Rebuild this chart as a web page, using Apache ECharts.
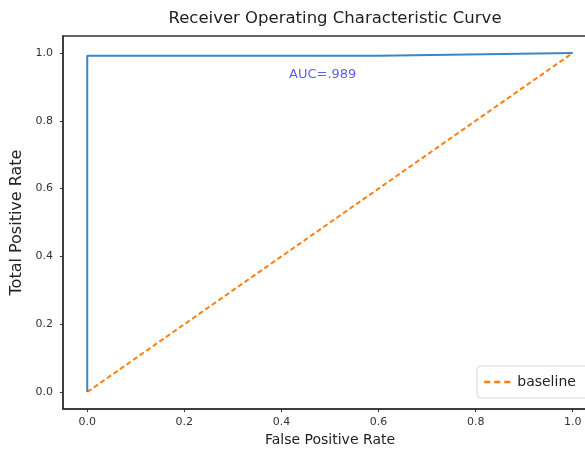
<!DOCTYPE html>
<html>
<head>
<meta charset="utf-8">
<script src="https://cdn.jsdelivr.net/npm/echarts@6/dist/echarts.min.js"></script>
<style>
  html, body { margin: 0; padding: 0; background: #fff; }
  #chart { width: 585px; height: 455px; }
</style>
</head>
<body>
<div id="chart"></div>
<script>
// ROC curve points (false positive rate, true positive rate)
const rocFpr = [0.0, 0.0, 0.6, 1.0];
const rocTpr = [0.0, 0.992, 0.992, 1.0];
// Chance diagonal
const baseFpr = [0.0, 1.0];
const baseTpr = [0.0, 1.0];
// Tick values shown on both axes
const tickValues = [0.0, 0.2, 0.4, 0.6, 0.8, 1.0];
const aucText = 'AUC=.989';
const aucPos = [0.485, 0.935];

const fontFamily = '"DejaVu Sans", sans-serif';
const chart = echarts.init(document.getElementById('chart'));

const zip = (a, b) => a.map((v, i) => [v, b[i]]);

const axisCommon = {
  type: 'value',
  min: -0.05,
  max: 1.05,
  splitLine: { show: false },
  axisLine: { show: true, onZero: false, lineStyle: { color: '#333', width: 1.5 } },
  axisTick: { show: true, customValues: tickValues, length: 3, lineStyle: { color: '#333' } },
  axisLabel: {
    customValues: tickValues,
    formatter: v => v.toFixed(1),
    color: '#333',
    fontSize: 11,
    fontFamily
  },
  nameLocation: 'middle',
  nameTextStyle: { color: '#222', fontFamily }
};

chart.setOption({
  animation: false,
  title: {
    text: 'Receiver Operating Characteristic Curve',
    left: 330,
    textAlign: 'center',
    top: 5,
    textStyle: { color: '#222', fontSize: 16.5, fontWeight: 'normal', fontFamily }
  },
  grid: {
    left: 63, top: 36, width: 534, height: 373,
    outerBoundsMode: 'none',
    containLabel: false,
    show: true, borderColor: '#333', borderWidth: 1.5, backgroundColor: '#fff'
  },
  xAxis: Object.assign({}, axisCommon, {
    name: 'False Positive Rate',
    nameGap: 23,
    nameTextStyle: { color: '#222', fontSize: 14, fontFamily },
    axisLabel: Object.assign({}, axisCommon.axisLabel, { margin: 8 })
  }),
  yAxis: Object.assign({}, axisCommon, {
    name: 'Total Positive Rate',
    nameGap: 34,
    nameTextStyle: { color: '#222', fontSize: 16, fontFamily },
    axisLabel: Object.assign({}, axisCommon.axisLabel, { margin: 10 })
  }),
  legend: {
    data: ['baseline'],
    left: 477,
    top: 366,
    padding: [9, 14, 9, 6],
    itemWidth: 28,
    itemHeight: 10,
    itemGap: 8,
    itemStyle: { opacity: 0 },
    lineStyle: { width: 2.5, type: [6, 4] },
    borderColor: '#d8d8d8',
    borderWidth: 1,
    borderRadius: 4,
    backgroundColor: '#fff',
    textStyle: { color: '#222', fontSize: 14, fontFamily }
  },
  series: [
    {
      name: 'roc',
      type: 'line',
      data: zip(rocFpr, rocTpr),
      symbol: 'none',
      lineStyle: { color: '#3a87c8', width: 2 },
      z: 3
    },
    {
      name: 'baseline',
      type: 'line',
      data: zip(baseFpr, baseTpr),
      symbol: 'none',
      itemStyle: { color: '#ff7f0e' },
      lineStyle: { color: '#ff7f0e', width: 2, type: [5, 3] },
      z: 2
    },
    {
      name: 'auc',
      type: 'scatter',
      data: [aucPos],
      symbolSize: 0,
      silent: true,
      label: {
        show: true,
        position: 'inside',
        formatter: aucText,
        color: '#3535f0',
        fontSize: 13,
        fontFamily
      }
    }
  ]
});
</script>
</body>
</html>
